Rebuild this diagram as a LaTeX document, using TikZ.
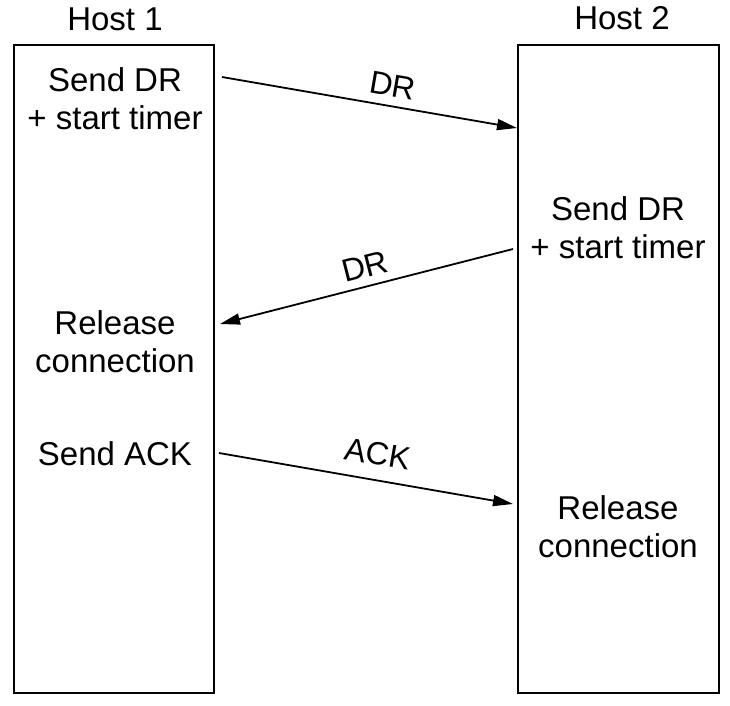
\documentclass[tikz,border=0pt]{standalone}
\usepackage{fontspec}
\setmainfont{Liberation Sans}
\usetikzlibrary{arrows.meta}
\begin{document}
\begin{tikzpicture}[x=1pt,y=-1pt,
  hostbox/.style={draw=black,line width=2.2pt},
  txt/.style={font=\fontsize{33}{38}\selectfont,align=center,anchor=base,inner sep=0pt},
  msg/.style={line width=1.8pt,-{Triangle[length=20pt,width=11pt]}},
  msgback/.style={line width=1.8pt,{Triangle[length=20pt,width=11pt]}-},
  lbl/.style={font=\fontsize{32}{38}\selectfont,inner sep=0pt,sloped}]
\useasboundingbox (0,0) rectangle (730,705);
% hosts
\draw[hostbox] (14,45) rectangle (214,693);
\draw[hostbox] (518,45) rectangle (719,693);
\node[txt] (h1) at (115,30) {Host 1};
\node[txt] (h2) at (622,29) {Host 2};
% left texts (base = last line)
\node[txt] (l1) at (115,129) {Send DR\\+ start timer};
\node[txt] (l2) at (115,372) {Release\\connection};
\node[txt] (l3) at (115,465) {Send ACK};
% right texts
\node[txt] (r1) at (618,258) {Send DR\\+ start timer};
\node[txt] (r2) at (618,557) {Release\\connection};
% arrow end points
\coordinate (a1s) at (222,77);
\coordinate (a1e) at (517,128);
\coordinate (a2l) at (220,324);
\coordinate (a2r) at (513,249);
\coordinate (a3s) at (219,453);
\coordinate (a3e) at (513,504);
% messages
\draw[msg] (a1s) -- node[lbl,pos=0.567,above=8.5pt] (m1) {DR} (a1e);
\draw[msgback] (a2l) -- node[lbl,pos=0.511,above=8pt] (m2) {DR} (a2r);
\draw[msg] (a3s) -- node[lbl,pos=0.526,above=14pt] (m3) {ACK} (a3e);
\end{tikzpicture}
\end{document}
